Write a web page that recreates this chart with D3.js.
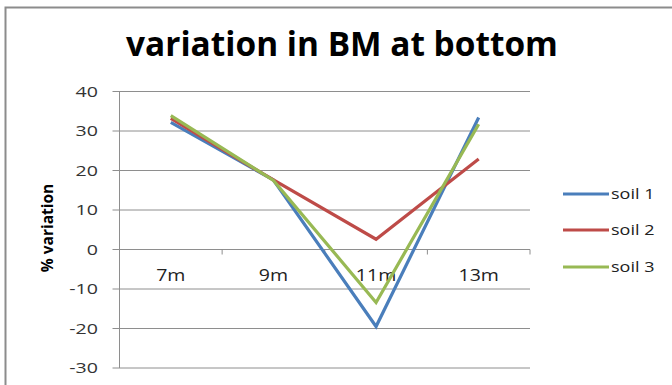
<!DOCTYPE html>
<html><head><meta charset="utf-8">
<script src="https://cdn.jsdelivr.net/npm/d3@7"></script>
<style>body{margin:0;background:#fff;}svg{display:block;}</style>
</head><body>
<svg id="c" width="672" height="385"></svg>
<script>
const categories = ["7m", "9m", "11m", "13m"];
const soil1 = [32.2, 17.6, -19.5, 33.4];
const soil2 = [33.2, 17.6, 2.6, 22.9];
const soil3 = [33.9, 17.5, -13.4, 31.7];
const seriesNames = ["soil 1", "soil 2", "soil 3"];
const yTicks = [-30, -20, -10, 0, 10, 20, 30, 40];
const colors = ["#4A7EBB", "#BE4B48", "#98B954"];
const seriesData = [soil1, soil2, soil3];

const svg = d3.select("#c");
const font = "'Open Sans', 'Liberation Sans', sans-serif";
const L = 119.5, R = 530, T = 91.5, B = 368;

// border
svg.append("rect").attr("x", 5.5).attr("y", 7.5).attr("width", 700).attr("height", 400)
  .attr("fill", "none").attr("stroke", "#8c8c8c").attr("stroke-width", 2);

// title
const title = svg.append("text").attr("x", 342).attr("y", 56).attr("text-anchor", "middle")
  .attr("font-family", font).attr("font-weight", "bold").attr("font-size", 30)
  .attr("fill", "#000").text("variation in BM at bottom");
const tw = title.node().getComputedTextLength();
title.attr("font-size", 30 * 432 / tw);

const x = d3.scaleBand().domain(categories).range([L, R]);
const y = d3.scaleLinear().domain([-30, 40]).range([B, T]);

// gridlines
svg.append("g").selectAll("line").data(yTicks).join("line")
  .attr("x1", L - 7).attr("x2", R).attr("y1", d => y(d)).attr("y2", d => y(d))
  .attr("stroke", "#8e8e8e").attr("stroke-width", 1);

// y axis line
svg.append("line").attr("x1", L).attr("x2", L).attr("y1", T).attr("y2", B)
  .attr("stroke", "#8e8e8e").attr("stroke-width", 1);

// y tick labels (horizontally stretched like the reference)
svg.append("g").selectAll("text").data(yTicks).join("text")
  .attr("transform", d => `translate(98,${y(d)}) scale(1.4,1)`)
  .attr("dy", "0.36em").attr("text-anchor", "end")
  .attr("font-family", font).attr("font-size", 14).attr("fill", "#333")
  .text(d => d);

// x axis ticks at band boundaries
const xTickPos = categories.map(c => x(c) + x.bandwidth());
svg.append("g").selectAll("line").data(xTickPos).join("line")
  .attr("x1", d => d).attr("x2", d => d).attr("y1", y(0)).attr("y2", y(0) + 5)
  .attr("stroke", "#8e8e8e").attr("stroke-width", 1);

// x labels
svg.append("g").selectAll("text").data(categories).join("text")
  .attr("transform", d => `translate(${x(d) + x.bandwidth() / 2},281) scale(1.15,1)`)
  .attr("text-anchor", "middle")
  .attr("font-family", font).attr("font-size", 17).attr("fill", "#222")
  .text(d => d);

// y axis title
svg.append("text").attr("transform", "translate(53,228) rotate(-90)")
  .attr("text-anchor", "middle").attr("font-family", font).attr("font-weight", "bold")
  .attr("font-size", 15.5).attr("fill", "#000").text("% variation");

// lines
const line = d3.line().x((d, i) => x(categories[i]) + x.bandwidth() / 2).y(d => y(d));
seriesData.forEach((s, i) => {
  svg.append("path").datum(s).attr("d", line).attr("fill", "none")
    .attr("stroke", colors[i]).attr("stroke-width", 3.2).attr("stroke-linejoin", "miter");
});

// legend
const legY = [194, 230, 267];
seriesNames.forEach((n, i) => {
  svg.append("line").attr("x1", 563).attr("x2", 609).attr("y1", legY[i]).attr("y2", legY[i])
    .attr("stroke", colors[i]).attr("stroke-width", 3.2);
  svg.append("text").attr("transform", `translate(611,${legY[i]}) scale(1.2,1)`)
    .attr("dy", "0.36em")
    .attr("font-family", font).attr("font-size", 15).attr("fill", "#222").text(n);
});
</script>
</body></html>
